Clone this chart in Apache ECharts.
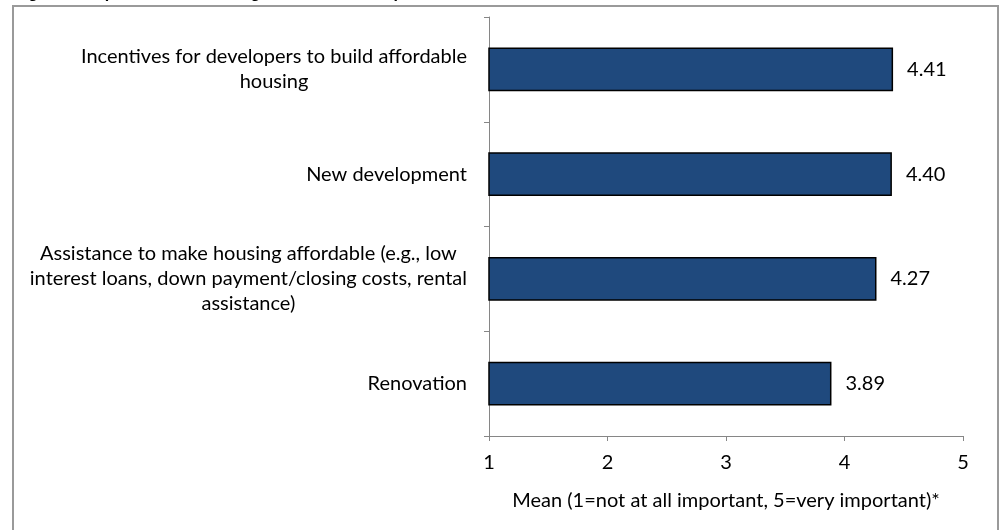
<!DOCTYPE html>
<html>
<head>
<meta charset="utf-8">
<script src="https://cdn.jsdelivr.net/npm/echarts@6/dist/echarts.min.js"></script>
<style>
html,body{margin:0;padding:0;background:#fff;}
#chart{width:1003px;height:530px;}
</style>
</head>
<body>
<div id="chart"></div>
<script>
const categories = [
  "Incentives for developers to build affordable\nhousing",
  "New development",
  "Assistance to make housing affordable (e.g., low\ninterest loans, down payment/closing costs, rental\nassistance)",
  "Renovation"
];
const values = [4.41, 4.40, 4.27, 3.89];
const xTicks = [1, 2, 3, 4, 5];
const titleText = "Figure 3: Importance of Housing Needs in the Respondents' Area";
const xAxisName = "Mean (1=not at all important, 5=very important)*";

const FONT = "Lato";
const FS = 20;
const chart = echarts.init(document.getElementById('chart'), null, {renderer: 'canvas'});
chart.setOption({
  backgroundColor: '#ffffff',
  animation: false,
  title: {
    text: titleText,
    left: 14,
    top: -14,
    padding: 0,
    textStyle: {fontFamily: 'Liberation Sans', fontWeight: 'bold', fontSize: 16, color: '#000'}
  },
  graphic: [{
    type: 'rect',
    shape: {x: 13, y: 6, width: 985, height: 560},
    style: {fill: 'none', stroke: '#9a9a9a', lineWidth: 2},
    z: 0
  }],
  grid: {left: 489, right: 40, top: 17, bottom: 94, containLabel: false},
  xAxis: {
    type: 'value',
    min: xTicks[0],
    max: xTicks[xTicks.length - 1],
    interval: 1,
    name: xAxisName,
    nameLocation: 'middle',
    nameGap: 55,
    nameTextStyle: {fontFamily: FONT, fontSize: FS, color: '#000'},
    axisLine: {show: true, lineStyle: {color: '#868686', width: 1}},
    axisTick: {show: true, length: 5, lineStyle: {color: '#868686'}},
    splitLine: {show: false},
    axisLabel: {fontFamily: FONT, fontSize: FS, color: '#000', margin: 17}
  },
  yAxis: {
    type: 'category',
    inverse: true,
    data: categories,
    axisLine: {show: true, lineStyle: {color: '#868686', width: 1}},
    axisTick: {show: true, length: 5, lineStyle: {color: '#868686'}},
    axisLabel: {
      margin: 22,
      fontFamily: FONT, fontSize: FS, color: '#000',
      formatter: function (v) {
        return v.split('\n').map(function (l) { return '{c|' + l + '}'; }).join('\n');
      },
      rich: {c: {align: 'center', fontFamily: FONT, fontSize: FS, lineHeight: 25, color: '#000'}}
    }
  },
  series: [{
    type: 'bar',
    data: values,
    barWidth: '42%',
    itemStyle: {color: '#1F497D', borderColor: '#000', borderWidth: 1.5},
    label: {
      show: true,
      position: 'right',
      distance: 14,
      fontFamily: FONT, fontSize: FS, color: '#000',
      formatter: function (p) { return p.value.toFixed(2); }
    }
  }]
});
</script>
</body>
</html>
